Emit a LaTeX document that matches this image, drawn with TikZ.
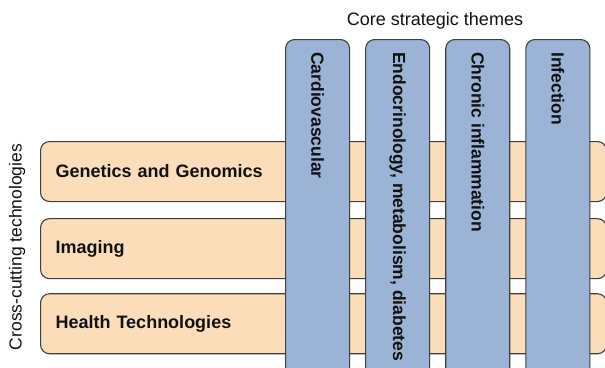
\documentclass[tikz,border=0pt]{standalone}
\usepackage{fontspec}
\setmainfont{Liberation Sans}
\usetikzlibrary{positioning}
\definecolor{cTech}{HTML}{FBDDBA}
\definecolor{cTheme}{HTML}{9BB3D4}
\definecolor{cEdge}{HTML}{3F3F3F}
\definecolor{cInk}{HTML}{111111}
\tikzset{
  base/.style  ={draw=cEdge,line width=1.1pt,rounded corners=9pt},
  tech/.style  ={base,fill=cTech,minimum height=60pt,text width=536pt,
                 inner xsep=15pt,align=left,text=cInk,
                 font=\fontsize{18}{21}\selectfont\bfseries},
  theme/.style ={base,fill=cTheme,minimum width=64pt,minimum height=381pt},
  tlbl/.style  ={rotate=-90,anchor=west,inner sep=0pt,text=cInk,
                 font=\fontsize{17.5}{20}\selectfont\bfseries},
  head/.style  ={text=cInk,font=\fontsize{18}{21}\selectfont},
}
\begin{document}
\begin{tikzpicture}[x=1pt,y=-1pt]
\useasboundingbox (0,0) rectangle (605,367);
\clip (0,0) rectangle (605,367);
% cross-cutting rows
\node[tech,anchor=north west] (gen) at (40,141) {Genetics and Genomics};
\node[tech,below=16pt of gen] (img) {Imaging};
\node[tech,below=14pt of img] (hlt) {Health Technologies};
% theme columns on top
\node[theme,anchor=north west] (cv) at (285,39) {};
\node[theme,right=15pt of cv] (en) {};
\node[theme,right=15pt of en] (ci) {};
\node[theme,right=15pt of ci] (inf) {};
\node[tlbl] at ([yshift=-13pt]cv.north) {Cardiovascular};
\node[tlbl] at ([yshift=-13pt]en.north) {Endocrinology, metabolism, diabetes};
\node[tlbl] at ([yshift=-13pt]ci.north) {Chronic inflammation};
\node[tlbl] at ([yshift=-13pt]inf.north) {Infection};
% headings
\node[head] (core) at (435,21) {Core strategic themes};
\node[head,rotate=90,font=\fontsize{17.5}{20}\selectfont] (cross) at (17,247) {Cross-cutting technologies};
\end{tikzpicture}
\end{document}
